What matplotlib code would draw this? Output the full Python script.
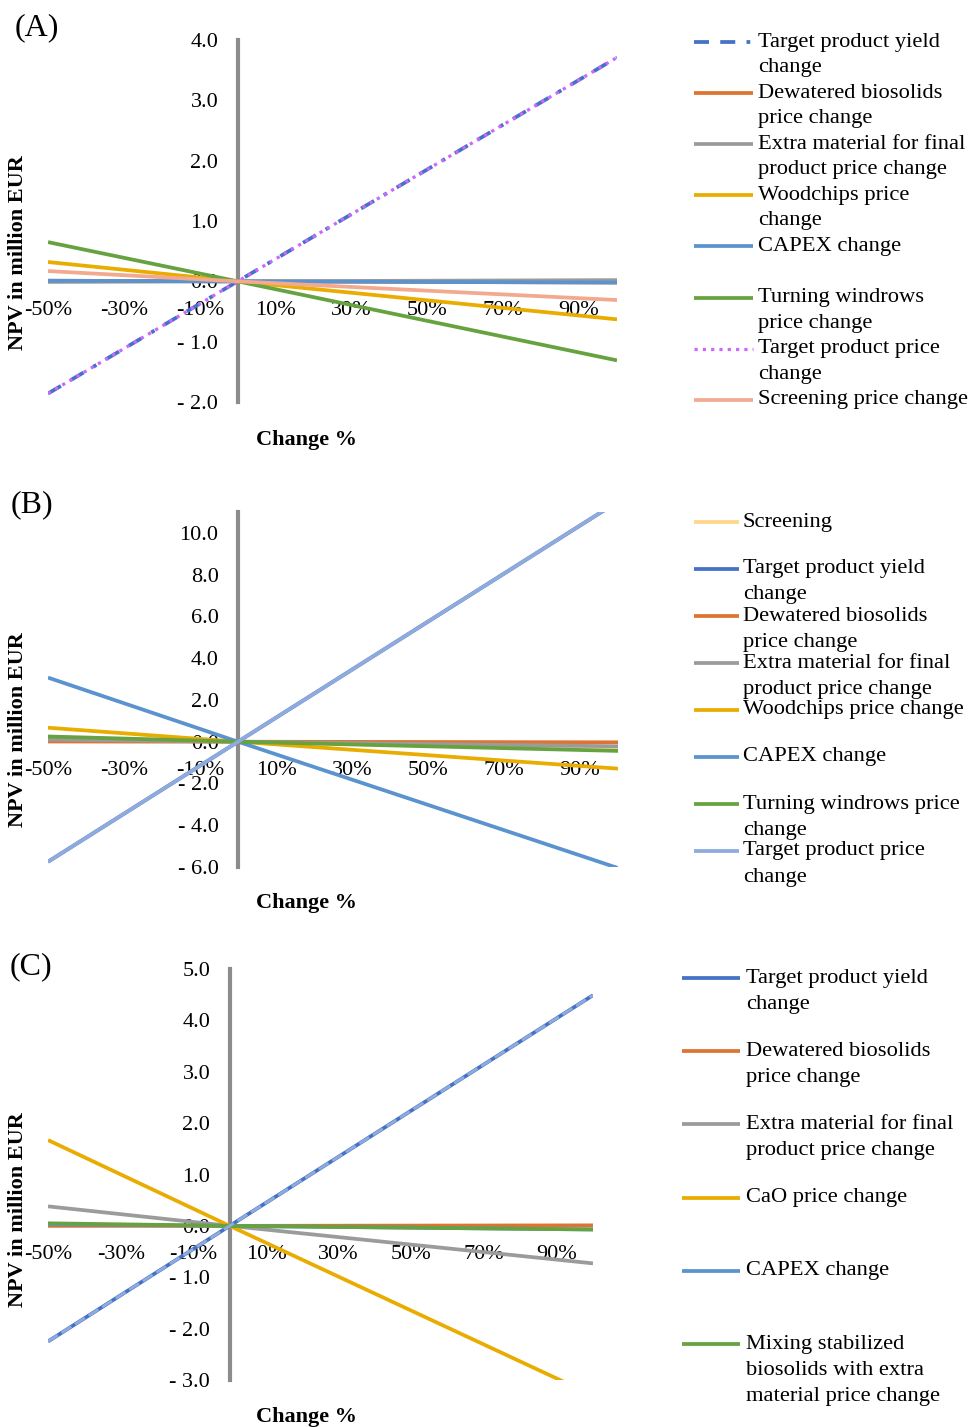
import matplotlib
matplotlib.use('Agg')
import matplotlib.pyplot as plt
from matplotlib.lines import Line2D

plt.rcParams['font.family'] = ['Liberation Serif', 'DejaVu Serif']

# ///////////////////////////////////////////////////////////////// data

# change in % (the lines are straight, read at both ends and at 0)
CHANGE = [-50, 0, 100]
X_TICKS = [-50, -30, -10, 10, 30, 50, 70, 90]

# (A)
A_NAMES = ['Target product yield\nchange',
           'Dewatered biosolids\nprice change',
           'Extra material for final\nproduct price change',
           'Woodchips price\nchange',
           'CAPEX change',
           'Turning windrows\nprice change',
           'Target product price\nchange',
           'Screening price change']
A_YIELD = [-1.86, 0.0, 3.71]
A_DEWATERED = [0.01, 0.0, -0.02]
A_EXTRA = [-0.01, 0.0, 0.02]
A_WOODCHIPS = [0.32, 0.0, -0.63]
A_CAPEX = [0.01, 0.0, -0.02]
A_TURNING = [0.65, 0.0, -1.31]
A_PRICE = [-1.86, 0.0, 3.71]
A_SCREENING = [0.17, 0.0, -0.31]
A_YTICKS = [-2, -1, 0, 1, 2, 3, 4]
A_YLABELS = ['- 2.0', '- 1.0', '0.0', '1.0', '2.0', '3.0', '4.0']

# (B)
B_NAMES = ['Screening',
           'Target product yield\nchange',
           'Dewatered biosolids\nprice change',
           'Extra material for final\nproduct price change',
           'Woodchips price change',
           'CAPEX change',
           'Turning windrows price\nchange',
           'Target product price\nchange']
B_SCREENING = [0.20, 0.0, -0.38]
B_YIELD = [-5.75, 0.0, 11.5]
B_DEWATERED = [0.01, 0.0, -0.03]
B_EXTRA = [0.10, 0.0, -0.22]
B_WOODCHIPS = [0.67, 0.0, -1.29]
B_CAPEX = [3.07, 0.0, -6.05]
B_TURNING = [0.25, 0.0, -0.44]
B_PRICE = [-5.75, 0.0, 11.5]
B_YTICKS = [-6, -4, -2, 0, 2, 4, 6, 8, 10]
B_YLABELS = ['- 6.0', '- 4.0', '- 2.0', '0.0', '2.0', '4.0', '6.0', '8.0', '10.0']

# (C)
C_NAMES = ['Target product yield\nchange',
           'Dewatered biosolids\nprice change',
           'Extra material for final\nproduct price change',
           'CaO price change',
           'CAPEX change',
           'Mixing stabilized\nbiosolids with extra\nmaterial price change']
C_YIELD = [-2.25, 0.0, 4.49]
C_DEWATERED = [0.0, 0.0, 0.01]
C_EXTRA = [0.38, 0.0, -0.73]
C_CAO = [1.67, 0.0, -3.3]
C_CAPEX = [0.03, 0.0, -0.07]
C_MIXING = [0.05, 0.0, -0.07]
C_PRICE = [-2.25, 0.0, 4.49]  # series without legend entry, drawn over the yield line
C_YTICKS = [-3, -2, -1, 0, 1, 2, 3, 4, 5]
C_YLABELS = ['- 3.0', '- 2.0', '- 1.0', '0.0', '1.0', '2.0', '3.0', '4.0', '5.0']

# ///////////////////////////////////////////////////////////////// styles

W, H = 969, 1427
LW = 2.7
BLUE = '#4472C4'
ORANGE = '#DE7431'
GRAY = '#9B9B9B'
YELLOW = '#E9AC00'
CAPEX_BLUE = '#5A93CD'
GREEN = '#66A340'
PURPLE = '#CC66FF'
SALMON = '#F2A98E'
PALE = '#FFD78C'
LIGHT_BLUE = '#8FAADC'

solid = lambda c: dict(color=c, lw=LW, solid_capstyle='butt')
A_STYLES = [dict(color=BLUE, lw=LW, linestyle=(0, (4, 3, 4, 3, 1, 3))),
            solid(ORANGE), solid(GRAY), solid(YELLOW), solid(CAPEX_BLUE), solid(GREEN),
            dict(color=PURPLE, lw=2.3, linestyle=(0, (1, 1.6))),
            solid(SALMON)]
B_STYLES = [solid(PALE), solid(BLUE), solid(ORANGE), solid(GRAY), solid(YELLOW),
            solid(CAPEX_BLUE), solid(GREEN), solid(LIGHT_BLUE)]
C_STYLES = [solid(BLUE), solid(ORANGE), solid(GRAY), solid(YELLOW), solid(CAPEX_BLUE), solid(GREEN)]
C_HIDDEN_STYLE = dict(color=LIGHT_BLUE, lw=LW - 0.6, linestyle=(0, (4, 1.5)))


def fx(x):
    return x / W


def fy(y):
    return 1 - y / H


fig = plt.figure(figsize=(W / 100, H / 100), dpi=100)


def make_panel(x_px, y_px, ylim, yticks, ylabels):
    ax = fig.add_axes([fx(x_px[0]), fy(y_px[1]), (x_px[1] - x_px[0]) / W, (y_px[1] - y_px[0]) / H])
    ax.set_xlim(-50, 100)
    ax.set_ylim(*ylim)
    ax.patch.set_visible(False)
    for s in ['top', 'right', 'bottom']:
        ax.spines[s].set_visible(False)
    ax.spines['left'].set_position(('data', 0))
    ax.spines['left'].set_color('#8C8C8C')
    ax.spines['left'].set_linewidth(3)
    ax.spines['left'].set_zorder(1)
    ax.spines['bottom'].set_position(('data', 0))
    ax.set_yticks(yticks)
    ax.set_yticklabels(ylabels)
    ax.set_xticks(X_TICKS)
    ax.set_xticklabels([f'{v}%' for v in X_TICKS])
    ax.tick_params(axis='y', length=0, pad=14, labelsize=16)
    ax.tick_params(axis='x', length=0, pad=14, labelsize=16)
    return ax


def draw_legend(names, styles, hx, tx, y0, step, gap):
    for i, (name, st) in enumerate(zip(names, styles)):
        y = y0 + i * step
        fig.add_artist(Line2D([fx(hx[0]), fx(hx[1])], [fy(y), fy(y)], transform=fig.transFigure, **st))
        for j, line in enumerate(name.split('\n')):
            fig.text(fx(tx), fy(y + j * gap), line, ha='left', va='center', fontsize=16.2)


def decorate(letter, letter_xy, ylab_y, xlab_y):
    fig.text(fx(letter_xy[0]), fy(letter_xy[1]), letter, ha='center', va='center', fontsize=23)
    fig.text(fx(18), fy(ylab_y), 'NPV in million EUR', rotation=90, ha='center', va='center',
             fontsize=16, fontweight='bold')
    fig.text(fx(307), fy(xlab_y), 'Change %', ha='center', va='center', fontsize=16, fontweight='bold')


# (A)
ax = make_panel((48, 617), (40, 402), (-2, 4), A_YTICKS, A_YLABELS)
for vals, st in zip([A_YIELD, A_DEWATERED, A_EXTRA, A_WOODCHIPS, A_CAPEX, A_TURNING, A_PRICE, A_SCREENING],
                    A_STYLES):
    ax.plot(CHANGE, vals, zorder=3, **st)
draw_legend(A_NAMES, A_STYLES, (694, 753), 758, 42, 51.1, 25.7)
decorate('(A)', (37, 28), 253, 440)

# (B)
ax = make_panel((48, 618), (512, 867), (-6, 11), B_YTICKS, B_YLABELS)
for vals, st in zip([B_SCREENING, B_YIELD, B_DEWATERED, B_EXTRA, B_WOODCHIPS, B_CAPEX, B_TURNING, B_PRICE],
                    B_STYLES):
    ax.plot(CHANGE, vals, zorder=3, **st)
draw_legend(B_NAMES, B_STYLES, (694, 739), 743, 522, 47.0, 26)
decorate('(B)', (32, 505), 730, 903)

# (C)
ax = make_panel((48, 593), (969, 1380), (-3, 5), C_YTICKS, C_YLABELS)
for vals, st in zip([C_YIELD, C_DEWATERED, C_EXTRA, C_CAO, C_CAPEX, C_MIXING], C_STYLES):
    ax.plot(CHANGE, vals, zorder=3, **st)
ax.plot(CHANGE, C_PRICE, zorder=3, **C_HIDDEN_STYLE)
draw_legend(C_NAMES, C_STYLES, (682, 740), 746, 978, 73.2, 26.5)
decorate('(C)', (31, 967), 1210, 1417)

fig.savefig('out.png', dpi=100)
